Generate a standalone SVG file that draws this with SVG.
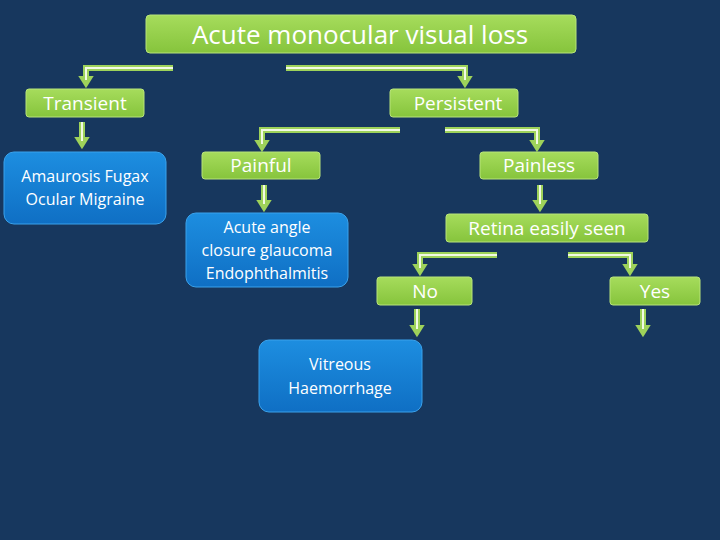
<svg xmlns="http://www.w3.org/2000/svg" width="720" height="540" viewBox="0 0 720 540">
<defs>
<linearGradient id="gg" x1="0" y1="0" x2="0" y2="1"><stop offset="0" stop-color="#a6dc5c"/><stop offset="1" stop-color="#86c43c"/></linearGradient>
<linearGradient id="bg" x1="0" y1="0" x2="0" y2="1"><stop offset="0" stop-color="#1d8ee0"/><stop offset="1" stop-color="#0f6fc4"/></linearGradient>
<marker id="ah" viewBox="0 0 10 10" refX="2" refY="5" markerWidth="2.6" markerHeight="2.6" orient="auto" markerUnits="strokeWidth"><path d="M0,0 L8,5 L0,10 z" fill="#9ed25a"/></marker>
</defs>
<style>
.g{fill:url(#gg);stroke:#b8e47a;stroke-width:1}
.b{fill:url(#bg);stroke:#3aa2ec;stroke-width:1}
.t{font-family:"Open Sans","DejaVu Sans",sans-serif;fill:#fff;text-anchor:middle}
.o{fill:none;stroke:#9ed25a;stroke-width:6;marker-end:url(#ah)}
.i{fill:none;stroke:#f2f9e4;stroke-width:2}
</style>
<rect width="720" height="540" fill="#17375e"/>
<g id="connectors">
<path class="o" d="M173,68 H86 V79"/><path class="i" d="M173,68 H86 V80"/>
<path class="o" d="M286,68 H465 V79"/><path class="i" d="M286,68 H465 V80"/>
<path class="o" d="M82,122 V140"/><path class="i" d="M82,122 V141"/>
<path class="o" d="M400,130 H262 V143"/><path class="i" d="M400,130 H262 V144"/>
<path class="o" d="M445,130 H537 V143"/><path class="i" d="M445,130 H537 V144"/>
<path class="o" d="M264,185 V203"/><path class="i" d="M264,185 V204"/>
<path class="o" d="M540,185 V203"/><path class="i" d="M540,185 V204"/>
<path class="o" d="M497,255 H420 V267"/><path class="i" d="M497,255 H420 V268"/>
<path class="o" d="M568,255 H630 V267"/><path class="i" d="M568,255 H630 V268"/>
<path class="o" d="M417,309 V328"/><path class="i" d="M417,309 V329"/>
<path class="o" d="M643,309 V328"/><path class="i" d="M643,309 V329"/>
</g>
<g id="root"><rect class="g" x="146" y="15" width="430" height="38" rx="4"/><text class="t" x="360" y="44" font-size="26">Acute monocular visual loss</text></g>
<g id="transient"><rect class="g" x="26" y="89" width="118" height="28" rx="3"/><text class="t" x="85" y="110" font-size="19">Transient</text></g>
<g id="persistent"><rect class="g" x="390" y="89" width="128" height="28" rx="3"/><text class="t" x="458" y="110" font-size="19">Persistent</text></g>
<g id="amaurosis"><rect class="b" x="4" y="152" width="162" height="72" rx="10"/><text class="t" x="85" y="182" font-size="16">Amaurosis Fugax</text><text class="t" x="85" y="205" font-size="16">Ocular Migraine</text></g>
<g id="painful"><rect class="g" x="202" y="152" width="118" height="27" rx="3"/><text class="t" x="261" y="172" font-size="19">Painful</text></g>
<g id="painless"><rect class="g" x="480" y="152" width="118" height="27" rx="3"/><text class="t" x="539" y="172" font-size="19">Painless</text></g>
<g id="acute"><rect class="b" x="186" y="213" width="162" height="74" rx="10"/><text class="t" x="267" y="233" font-size="16">Acute angle</text><text class="t" x="267" y="256" font-size="16">closure glaucoma</text><text class="t" x="267" y="279" font-size="16">Endophthalmitis</text></g>
<g id="retina"><rect class="g" x="446" y="214" width="202" height="28" rx="3"/><text class="t" x="547" y="235" font-size="19">Retina easily seen</text></g>
<g id="no"><rect class="g" x="377" y="277" width="95" height="28" rx="3"/><text class="t" x="425" y="298" font-size="19">No</text></g>
<g id="yes"><rect class="g" x="610" y="277" width="90" height="28" rx="3"/><text class="t" x="655" y="298" font-size="19">Yes</text></g>
<g id="vitreous"><rect class="b" x="259" y="340" width="163" height="72" rx="10"/><text class="t" x="340" y="370" font-size="16">Vitreous</text><text class="t" x="340" y="394" font-size="16">Haemorrhage</text></g>
</svg>
